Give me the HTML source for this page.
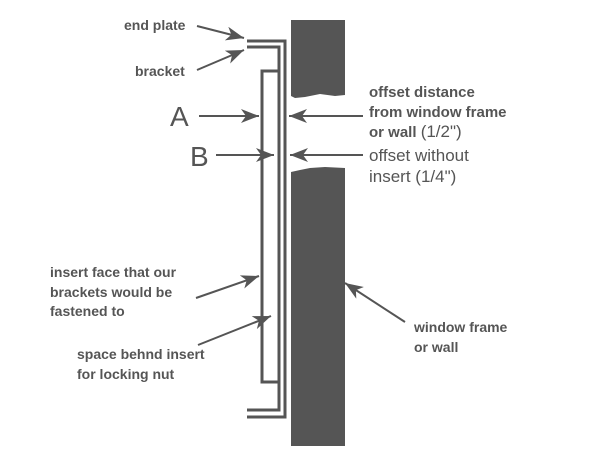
<!DOCTYPE html>
<html><head><style>body{margin:0;background:#fff}svg{display:block}</style></head><body>
<svg width="600" height="450" xmlns="http://www.w3.org/2000/svg" font-family="Liberation Sans, sans-serif" fill="#555">
<defs><marker id="a" markerWidth="20" markerHeight="16" refX="18" refY="7" orient="auto" markerUnits="userSpaceOnUse"><path d="M0,0 L18,7 L0,14 L5,7 z" fill="#555"/></marker></defs>
<path d="M291,20 H345 V95 L335,96 L320,94 L305,97 L295,98 L291,96 Z"/>
<path d="M291,172 L300,170 L310,168 L325,167 L345,168 V446 H291 Z"/>
<g fill="none" stroke="#555" stroke-width="3">
<polyline points="247,41 285,41 285,417 247,417"/>
<polyline points="247,47 279,47 279,410 247,410"/>
<rect x="262" y="71" width="17" height="311"/>
</g>
<g stroke="#555" stroke-width="2" marker-end="url(#a)">
<line x1="197" y1="26" x2="244" y2="38"/>
<line x1="197" y1="70" x2="244" y2="50"/>
<line x1="199" y1="116" x2="259" y2="116"/>
<line x1="216" y1="155" x2="274" y2="155"/>
<line x1="363" y1="116" x2="289" y2="116"/>
<line x1="363" y1="155" x2="290" y2="155"/>
<line x1="196" y1="298" x2="259" y2="276"/>
<line x1="198" y1="345" x2="271" y2="316"/>
<line x1="405" y1="322" x2="345" y2="283"/>
</g>
<g font-size="14" font-weight="bold" fill="#555">
<text x="124" y="30">end plate</text>
<text x="135" y="76">bracket</text>
<text x="369" y="97" font-size="15">offset distance</text>
<text x="369" y="117" font-size="15">from window frame</text>
<text x="369" y="137" font-size="15">or wall <tspan font-weight="normal" font-size="17">(1/2")</tspan></text>
<text x="50" y="277">insert face that our</text>
<text x="50" y="297">brackets would be</text>
<text x="50" y="316">fastened to</text>
<text x="77" y="359">space behnd insert</text>
<text x="77" y="379">for locking nut</text>
<text x="414" y="332">window frame</text>
<text x="414" y="352">or wall</text>
</g>
<g font-size="17" fill="#555">
<text x="369" y="161">offset without</text>
<text x="369" y="182">insert  (1/4")</text>
</g>
<text x="170" y="126" font-size="28" fill="#555">A</text>
<text x="190" y="166" font-size="28" fill="#555">B</text>
</svg>
</body></html>
